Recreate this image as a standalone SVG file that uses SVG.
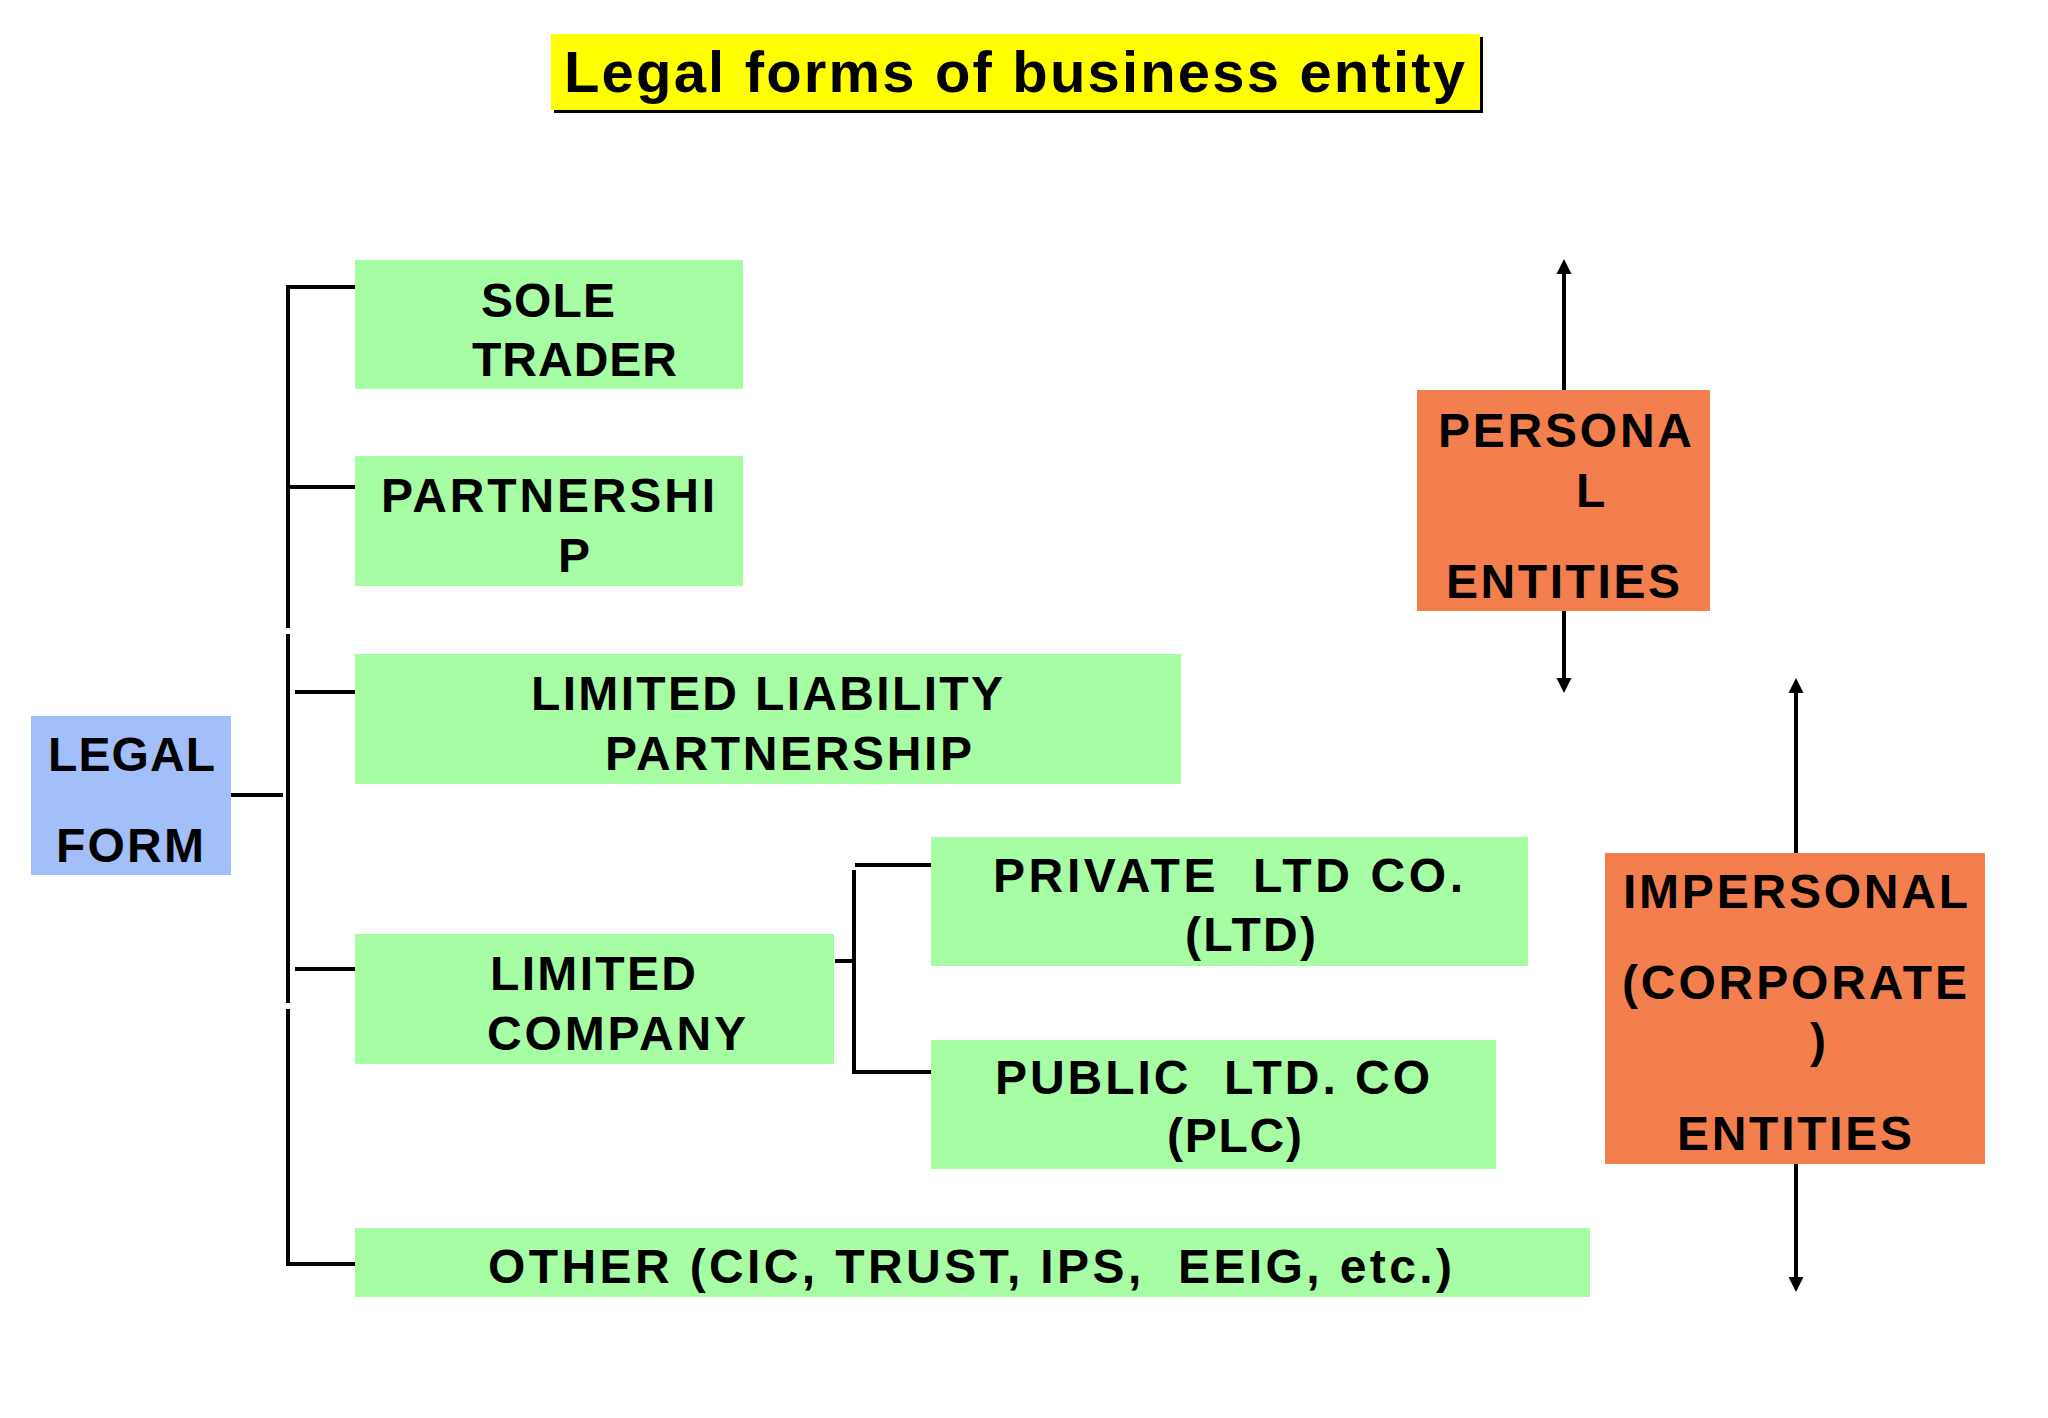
<svg xmlns="http://www.w3.org/2000/svg" width="2048" height="1418" viewBox="0 0 2048 1418">
<style>
.lbl{font-family:"Liberation Sans",Arial,sans-serif;font-weight:bold;font-size:48px;fill:#000}
.title{font-family:"Liberation Sans",Arial,sans-serif;font-weight:bold;font-size:58px;fill:#000}
.green{fill:#a6fda4}
.blue{fill:#a3bff9}
.orange{fill:#f47f4e}
.con{fill:none;stroke:#000;stroke-width:4}
</style>
<defs>
<marker id="ah" markerUnits="userSpaceOnUse" markerWidth="16" markerHeight="16" viewBox="0 0 16 16" refX="5" refY="8" orient="auto">
<path d="M0,0.5 L15,8 L0,15.5 z" fill="#000"/>
</marker>
</defs>
<rect width="2048" height="1418" fill="#fff"/>

<g id="title">
<rect x="554" y="37" width="929" height="76" fill="#000"/>
<rect x="551" y="34" width="929" height="76" fill="#ffff00"/>
<text class="title" x="564" y="92" textLength="901" lengthAdjust="spacing">Legal forms of business entity</text>
</g>

<g id="connectors">
<path class="con" d="M355,287 H288 V628"/>
<path class="con" d="M288,487 H355"/>
<path class="con" d="M288,634 V1003"/>
<path class="con" d="M295,692 H355"/>
<path class="con" d="M295,969 H355"/>
<path class="con" d="M288,1009 V1264 H355"/>
<path class="con" d="M231,795 H283"/>
<path class="con" d="M835,961 H852"/>
<path class="con" d="M855,865 H931"/>
<path class="con" d="M854,870 V1072 H931"/>
<line class="con" x1="1564" y1="390" x2="1564" y2="269" marker-end="url(#ah)"/>
<line class="con" x1="1564" y1="611" x2="1564" y2="683" marker-end="url(#ah)"/>
<line class="con" x1="1796" y1="853" x2="1796" y2="688" marker-end="url(#ah)"/>
<line class="con" x1="1796" y1="1164" x2="1796" y2="1282" marker-end="url(#ah)"/>
</g>

<g id="legal-form">
<rect class="blue" x="31" y="716" width="200" height="159"/>
<text class="lbl" x="48" y="771" textLength="167" lengthAdjust="spacing">LEGAL</text>
<text class="lbl" x="56" y="862" textLength="148" lengthAdjust="spacing">FORM</text>
</g>

<g id="sole-trader">
<rect class="green" x="355" y="260" width="388" height="129"/>
<text class="lbl" x="481" y="317" textLength="134" lengthAdjust="spacing">SOLE</text>
<text class="lbl" x="472" y="376" textLength="205" lengthAdjust="spacing">TRADER</text>
</g>

<g id="partnership">
<rect class="green" x="355" y="456" width="388" height="130"/>
<text class="lbl" x="381" y="512" textLength="334" lengthAdjust="spacing">PARTNERSHI</text>
<text class="lbl" x="558" y="572">P</text>
</g>

<g id="llp">
<rect class="green" x="355" y="654" width="826" height="130"/>
<text class="lbl" x="531" y="710" textLength="472" lengthAdjust="spacing">LIMITED LIABILITY</text>
<text class="lbl" x="605" y="770" textLength="367" lengthAdjust="spacing">PARTNERSHIP</text>
</g>

<g id="limited-company">
<rect class="green" x="355" y="934" width="479" height="130"/>
<text class="lbl" x="490" y="990" textLength="206" lengthAdjust="spacing">LIMITED</text>
<text class="lbl" x="487" y="1050" textLength="259" lengthAdjust="spacing">COMPANY</text>
</g>

<g id="private-ltd">
<rect class="green" x="931" y="837" width="597" height="129"/>
<text class="lbl" x="993" y="892" textLength="470" lengthAdjust="spacing" xml:space="preserve">PRIVATE  LTD CO.</text>
<text class="lbl" x="1185" y="951" textLength="131" lengthAdjust="spacing">(LTD)</text>
</g>

<g id="public-ltd">
<rect class="green" x="931" y="1040" width="565" height="129"/>
<text class="lbl" x="995" y="1094" textLength="435" lengthAdjust="spacing" xml:space="preserve">PUBLIC  LTD. CO</text>
<text class="lbl" x="1167" y="1152" textLength="135" lengthAdjust="spacing">(PLC)</text>
</g>

<g id="other">
<rect class="green" x="355" y="1228" width="1235" height="69"/>
<text class="lbl" x="488" y="1283" textLength="964" lengthAdjust="spacing" xml:space="preserve">OTHER (CIC, TRUST, IPS,  EEIG, etc.)</text>
</g>

<g id="personal">
<rect class="orange" x="1417" y="390" width="293" height="221"/>
<text class="lbl" x="1438" y="447" textLength="254" lengthAdjust="spacing">PERSONA</text>
<text class="lbl" x="1576" y="507">L</text>
<text class="lbl" x="1446" y="598" textLength="234" lengthAdjust="spacing">ENTITIES</text>
</g>

<g id="impersonal">
<rect class="orange" x="1605" y="853" width="380" height="311"/>
<text class="lbl" x="1623" y="908" textLength="345" lengthAdjust="spacing">IMPERSONAL</text>
<text class="lbl" x="1622" y="999" textLength="345" lengthAdjust="spacing">(CORPORATE</text>
<text class="lbl" x="1810" y="1057">)</text>
<text class="lbl" x="1677" y="1150" textLength="235" lengthAdjust="spacing">ENTITIES</text>
</g>
</svg>
